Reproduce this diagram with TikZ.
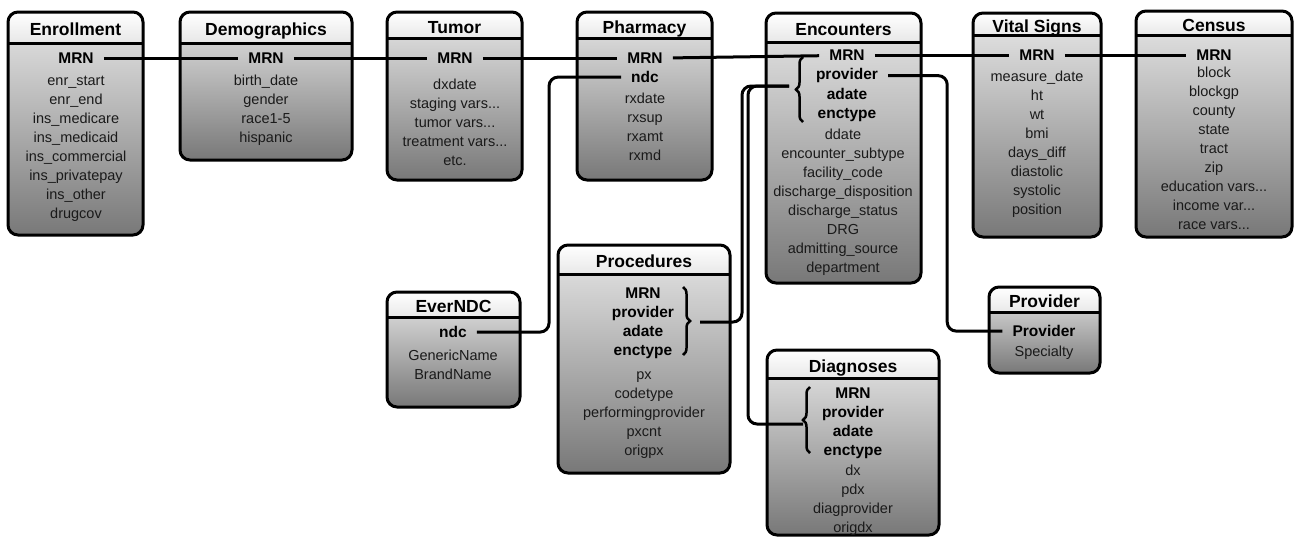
\documentclass[tikz,border=0pt]{standalone}
\usepackage{fontspec}
\setmainfont{Liberation Sans}
\usetikzlibrary{positioning, calc, decorations.pathreplacing}
\definecolor{headtop}{HTML}{FFFFFF}
\definecolor{headbot}{HTML}{DEDEDE}
\definecolor{bodytop}{HTML}{E8E8E8}
\definecolor{bodybot}{HTML}{787878}
\definecolor{fieldtext}{HTML}{1A1A1A}

% table box: name, x1, y1, x2, header line, y2, title
\newcommand{\dbtable}[7]{%
  \shade[top color=bodytop, bottom color=bodybot, rounded corners=10pt] (#2,#3) rectangle (#4,#6);
  \begin{scope}
    \clip (#2,#3) rectangle (#4,#5);
    \shade[top color=headtop, bottom color=headbot, rounded corners=10pt] (#2,#3) rectangle (#4,#5+12);
  \end{scope}
  \draw[line width=3pt, rounded corners=10pt] (#2,#3) rectangle (#4,#6);
  \draw[line width=3pt] (#2,#5) -- (#4,#5);
  \node[title] (#1) at ({(#2+#4)/2},{(#3+#5)/2+5.5}) {#7};
}

\begin{document}
\begin{tikzpicture}[x=1pt, y=-1pt,
    title/.style={font=\fontsize{17.5}{20}\selectfont\bfseries, inner sep=0pt, anchor=mid},
    keyf/.style={font=\fontsize{15.5}{19}\selectfont\bfseries, align=center, inner sep=2pt, anchor=mid, yshift=-4pt},
    fields/.style={font=\fontsize{14.5}{19}\selectfont, text=fieldtext, align=center, inner sep=0pt, anchor=mid, yshift=-3.5pt},
    link/.style={line width=3pt, rounded corners=9pt},
    keygap/.style={shorten <=8pt, shorten >=8pt},
    brc/.style={line width=2.5pt, decorate, decoration={brace, amplitude=7pt}}]
    \useasboundingbox (0,0) rectangle (1299,538);

    % lists are placed by their last line

    % Enrollment
    \dbtable{enr}{8}{12}{143}{43}{235}{Enrollment}
    \node[keyf] (enrmrn) at (76,57) {MRN};
    \node[fields] (enrlist) at (76,212) {enr\_start\\enr\_end\\ins\_medicare\\ins\_medicaid\\ins\_commercial\\ins\_privatepay\\ins\_other\\drugcov};

    % Demographics
    \dbtable{dem}{180}{12}{352}{43}{160}{Demographics}
    \node[keyf] (demmrn) at (266,57) {MRN};
    \node[fields] (demlist) at (266,136) {birth\_date\\gender\\race1-5\\hispanic};

    % Tumor
    \dbtable{tum}{387}{12}{522}{38}{180}{Tumor}
    \node[keyf] (tummrn) at (455,57) {MRN};
    \node[fields] (tumlist) at (455,159) {dxdate\\staging vars...\\tumor vars...\\treatment vars...\\etc.};

    % Pharmacy
    \dbtable{pha}{577}{12}{712}{38}{180}{Pharmacy}
    \node[keyf] (phamrn) at (645,57) {MRN};
    \node[keyf] (phandc) at (645,76) {ndc};
    \node[fields] (phalist) at (645,154) {rxdate\\rxsup\\rxamt\\rxmd};

    % Encounters
    \dbtable{enc}{766}{13}{921}{42}{283}{Encounters}
    \node[keyf] (encmrn) at (847,54) {MRN};
    \node[keyf] (encprov) at (847,73) {provider};
    \node[keyf] (enckeys) at (847,112) {adate\\enctype};
    \node[fields] (enclist) at (843,266) {ddate\\encounter\_subtype\\facility\_code\\discharge\_disposition\\discharge\_status\\DRG\\admitting\_source\\department};

    % Vital Signs
    \dbtable{vit}{973}{13}{1101}{35}{237}{Vital Signs}
    \node[keyf] (vitmrn) at (1037,54) {MRN};
    \node[fields] (vitlist) at (1037,208) {measure\_date\\ht\\wt\\bmi\\days\_diff\\diastolic\\systolic\\position};

    % Census
    \dbtable{cen}{1136}{11}{1292}{35}{237}{Census}
    \node[keyf] (cenmrn) at (1214,54) {MRN};
    \node[fields] (cenlist) at (1214,223) {block\\blockgp\\county\\state\\tract\\zip\\education vars...\\income var...\\race vars...};

    % EverNDC
    \dbtable{evr}{387}{292}{520}{317}{407}{EverNDC}
    \node[keyf] (evrndc) at (453,331) {ndc};
    \node[fields] (evrlist) at (453,373) {GenericName\\BrandName};

    % Procedures
    \dbtable{pro}{558}{245}{730}{274}{473}{Procedures}
    \node[keyf] (prokeys) at (643,349) {MRN\\provider\\adate\\enctype};
    \node[fields] (prolist) at (644,449) {px\\codetype\\performingprovider\\pxcnt\\origpx};

    % Diagnoses
    \dbtable{dia}{767}{350}{939}{378}{535}{Diagnoses}
    \node[keyf] (diakeys) at (853,449) {MRN\\provider\\adate\\enctype};
    \node[fields] (dialist) at (853,526) {dx\\pdx\\diagprovider\\origdx};

    % Provider
    \dbtable{prv}{989}{287}{1100}{312}{373}{Provider}
    \node[keyf] (prvkey) at (1044,330) {Provider};
    \node[fields] (prvlist) at (1044,350) {Specialty};

    % Braces round the encounter keys
    \draw[brc] (803,122) -- (803,57);
    \draw[brc] (683,287) -- (683,355);
    \draw[brc] (810,453) -- (810,387);
    \coordinate (encbr) at (789,86);
    \coordinate (probr) at (700,322);
    \coordinate (diabr) at (803,424);

    % MRN links
    \draw[link, keygap] (enrmrn) -- (demmrn);
    \draw[link, keygap] (demmrn) -- (tummrn);
    \draw[link, keygap] (tummrn) -- (phamrn);
    \draw[link, keygap] (phamrn) -- (encmrn);
    \draw[link, keygap] (encmrn) -- (vitmrn);
    \draw[link, keygap] (vitmrn) -- (cenmrn);

    % ndc link
    \draw[link, keygap] (phandc.west) -- ++(-80,0) |- (evrndc.east);

    % provider link
    \draw[link, keygap] (encprov.east) -- ++(67,0) |- (prvkey.west);

    % encounter key links
    \draw[link] (encbr) -| ([xshift=42pt]probr) -- (probr);
    \draw[link] (encbr) -| ([xshift=-55pt]diabr) -- (diabr);
\end{tikzpicture}
\end{document}
